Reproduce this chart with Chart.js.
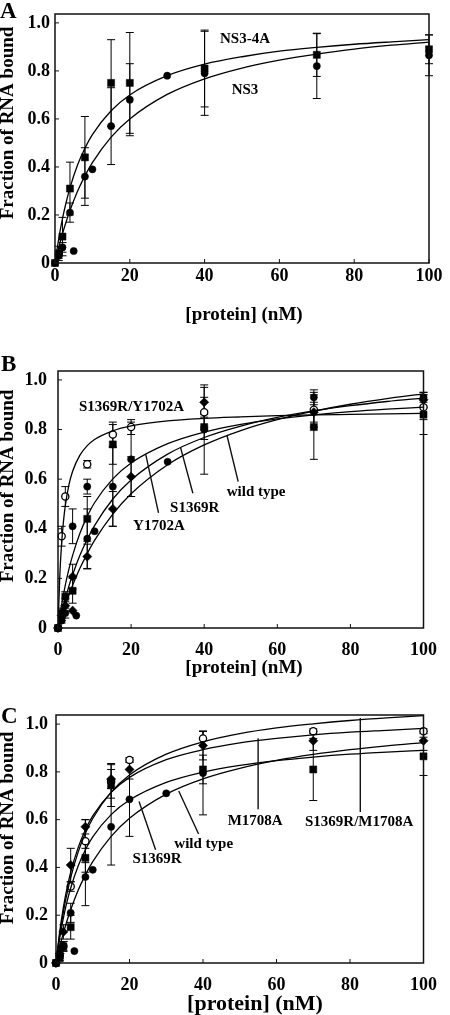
<!DOCTYPE html>
<html>
<head>
<meta charset="utf-8">
<script src="https://cdn.jsdelivr.net/npm/chart.js@4.4.0/dist/chart.umd.min.js"></script>
<style>
html, body { margin: 0; padding: 0; background: #fff; }
body { width: 450px; height: 1015px; position: relative; overflow: hidden; }
.panel { position: absolute; left: 0; width: 450px; }
</style>
</head>
<body>
<div class="panel" style="top:0;height:330px"><canvas id="chartA" width="450" height="330"></canvas></div>
<div class="panel" style="top:330px;height:350px"><canvas id="chartB" width="450" height="350"></canvas></div>
<div class="panel" style="top:680px;height:335px"><canvas id="chartC" width="450" height="335"></canvas></div>
<script>
// axis ticks
const xTicks = [0, 20, 40, 60, 80, 100];
const yTicks = [0, 0.2, 0.4, 0.6, 0.8, 1.0];

const curveX = [0, 1, 2, 3, 4, 6, 8, 10, 15, 20, 30, 40, 50, 60, 70, 80, 90, 100];
const steepX = [0, 0.5, 1, 1.5, 2, 3, 4, 6, 8, 10, 15, 20, 30, 40, 50, 60, 70, 80, 90, 100];

// Panel A
const aNs3X   = [0, 1, 2, 4, 5, 8, 10, 15, 20, 30, 40, 70, 100];
const aNs3Y   = [0, 0.03, 0.065, 0.21, 0.05, 0.36, 0.39, 0.57, 0.68, 0.78, 0.79, 0.82, 0.865];
const aNs3Err = [0, 0.01, 0.02, 0.04, 0, 0.12, 0, 0.16, 0.15, 0, 0.175, 0.135, 0.085];
const aNs34aX   = [0, 1, 2, 4, 8, 15, 20, 40, 70, 100];
const aNs34aY   = [0, 0.04, 0.11, 0.31, 0.44, 0.75, 0.75, 0.81, 0.867, 0.89];
const aNs34aErr = [0, 0.03, 0.08, 0.11, 0.17, 0.18, 0.21, 0.16, 0.09, 0.06];
const aNs34aFit = [0, 0.102, 0.185, 0.254, 0.313, 0.407, 0.478, 0.535, 0.634, 0.700, 0.780, 0.828, 0.859, 0.882, 0.898, 0.911, 0.921, 0.930];
const aNs3Fit   = [0, 0.065, 0.122, 0.173, 0.219, 0.298, 0.363, 0.418, 0.524, 0.600, 0.702, 0.767, 0.812, 0.845, 0.870, 0.891, 0.907, 0.920];

// Panel B
const bDoubleX   = [0, 1, 2, 8, 15, 20, 40, 70, 100];
const bDoubleY   = [0, 0.37, 0.53, 0.66, 0.78, 0.81, 0.87, 0.88, 0.89];
const bDoubleErr = [0, 0.04, 0.04, 0.015, 0.05, 0.03, 0.06, 0.07, 0.05];
const bWildX   = [0, 1, 2, 4, 5, 8, 8, 10, 15, 20, 30, 40, 70, 100];
const bWildY   = [0, 0.03, 0.06, 0.41, 0.05, 0.57, 0.36, 0.39, 0.57, 0.68, 0.67, 0.80, 0.93, 0.93];
const bWildErr = [0, 0.01, 0.02, 0.07, 0, 0.03, 0.12, 0, 0.16, 0.15, 0, 0.18, 0.03, 0.02];
const bS1369RX   = [0, 1, 2, 4, 4, 8, 15, 20, 40, 70, 100];
const bS1369RY   = [0, 0.05, 0.09, 0.07, 0.207, 0.288, 0.48, 0.61, 0.91, 0.87, 0.92];
const bS1369RErr = [0, 0.02, 0.03, 0, 0.05, 0.05, 0.07, 0.08, 0.06, 0.04, 0.03];
const bY1702AX   = [0, 1, 2, 4, 8, 15, 40, 70, 100];
const bY1702AY   = [0, 0.06, 0.126, 0.15, 0.44, 0.74, 0.81, 0.81, 0.86];
const bY1702AErr = [0, 0.02, 0.02, 0.05, 0.09, 0.08, 0.05, 0.13, 0.08];
const bDoubleFit = [0, 0.213, 0.343, 0.430, 0.493, 0.578, 0.632, 0.697, 0.735, 0.760, 0.795, 0.815, 0.835, 0.845, 0.851, 0.856, 0.859, 0.861, 0.863, 0.865];
const bY1702AFit = [0, 0.095, 0.173, 0.238, 0.293, 0.382, 0.450, 0.505, 0.601, 0.665, 0.743, 0.790, 0.821, 0.843, 0.859, 0.872, 0.882, 0.890];
const bS1369RFit = [0, 0.063, 0.119, 0.170, 0.215, 0.293, 0.358, 0.413, 0.520, 0.597, 0.701, 0.768, 0.814, 0.849, 0.875, 0.896, 0.913, 0.927];
const bWildFit   = [0, 0.049, 0.093, 0.134, 0.172, 0.241, 0.300, 0.353, 0.459, 0.541, 0.658, 0.738, 0.796, 0.840, 0.874, 0.902, 0.925, 0.944];

// Panel C
const cDoubleX   = [0, 1, 2, 4, 8, 15, 20, 40, 70, 100];
const cDoubleY   = [0, 0.03, 0.07, 0.32, 0.51, 0.76, 0.85, 0.94, 0.97, 0.97];
const cDoubleErr = [0, 0.01, 0.02, 0.02, 0.09, 0.07, 0.01, 0.03, 0.01, 0.01];
const cM1708AX   = [0, 1, 2, 4, 8, 15, 20, 40, 70, 100];
const cM1708AY   = [0, 0.04, 0.13, 0.41, 0.57, 0.77, 0.81, 0.91, 0.93, 0.93];
const cM1708AErr = [0, 0.01, 0.03, 0.07, 0.03, 0.04, 0.04, 0.06, 0.04, 0.04];
const cS1369RX   = [0, 1, 2, 4, 8, 15, 40, 70, 100];
const cS1369RY   = [0, 0.02, 0.07, 0.15, 0.44, 0.745, 0.81, 0.81, 0.865];
const cS1369RErr = [0, 0.01, 0.02, 0.05, 0.06, 0.09, 0.06, 0.13, 0.08];
const cWildX   = [0, 1, 2, 4, 5, 8, 10, 15, 20, 30, 40];
const cWildY   = [0, 0.03, 0.07, 0.21, 0.05, 0.36, 0.39, 0.57, 0.685, 0.71, 0.795];
const cWildErr = [0, 0.01, 0.02, 0.04, 0, 0.12, 0, 0.16, 0.155, 0, 0.175];
const cDoubleFit = [0, 0.117, 0.213, 0.291, 0.358, 0.463, 0.543, 0.605, 0.715, 0.787, 0.874, 0.926, 0.960, 0.984, 1.001, 1.015, 1.026, 1.035];
const cM1708AFit = [0, 0.130, 0.232, 0.313, 0.380, 0.482, 0.558, 0.616, 0.714, 0.777, 0.851, 0.893, 0.921, 0.940, 0.955, 0.966, 0.974, 0.982];
const cS1369RFit = [0, 0.104, 0.188, 0.257, 0.314, 0.405, 0.474, 0.528, 0.621, 0.682, 0.756, 0.799, 0.827, 0.847, 0.862, 0.874, 0.883, 0.890];
const cWildFit   = [0, 0.066, 0.125, 0.177, 0.223, 0.303, 0.369, 0.424, 0.530, 0.606, 0.707, 0.771, 0.815, 0.848, 0.873, 0.893, 0.909, 0.922];

const SERIF = '"Liberation Serif", "Times New Roman", serif';

function pts(xs, ys) {
    return xs.map((x, i) => ({x: x, y: ys[i]}));
}

function marks(xs, ys, errs, shape) {
    const open = shape === 'open';
    return {
        data: pts(xs, ys),
        errors: errs,
        showLine: false,
        clip: false,
        pointStyle: open ? 'circle' : shape,
        pointRadius: shape === 'rect' ? 5 : shape === 'rectRot' ? 4.6 : 3.6,
        pointBackgroundColor: open ? '#fff' : '#000',
        pointBorderColor: '#000',
        pointBorderWidth: open ? 1.3 : 0.5
    };
}

function fit(xs, ys) {
    return {
        data: pts(xs, ys),
        showLine: true,
        pointRadius: 0,
        borderColor: '#000',
        borderWidth: 1.3,
        cubicInterpolationMode: 'monotone'
    };
}

// error bars, frame, inward ticks, labels and titles
const panelPlugin = {
    id: 'panel',
    beforeDatasetsDraw(chart) {
        const {ctx, scales: {x, y}} = chart;
        ctx.save();
        ctx.strokeStyle = '#000';
        ctx.lineWidth = 1;
        chart.data.datasets.forEach(ds => {
            if (!ds.errors) return;
            ds.data.forEach((p, i) => {
                const e = ds.errors[i];
                if (!e) return;
                const px = x.getPixelForValue(p.x);
                const y1 = y.getPixelForValue(p.y + e);
                const y2 = y.getPixelForValue(p.y - e);
                ctx.beginPath();
                ctx.moveTo(px, y1); ctx.lineTo(px, y2);
                ctx.moveTo(px - 4, y1); ctx.lineTo(px + 4, y1);
                ctx.moveTo(px - 4, y2); ctx.lineTo(px + 4, y2);
                ctx.stroke();
            });
        });
        ctx.restore();
    },
    afterDraw(chart, args, o) {
        const {ctx, chartArea: a, scales: {x, y}} = chart;
        ctx.save();
        ctx.strokeStyle = '#111';
        ctx.lineWidth = 1.5;
        ctx.strokeRect(a.left, a.top, a.right - a.left, a.bottom - a.top);
        ctx.lineWidth = 1;
        ctx.beginPath();
        xTicks.forEach(v => {
            const px = x.getPixelForValue(v);
            ctx.moveTo(px, a.bottom); ctx.lineTo(px, a.bottom - 4);
        });
        yTicks.forEach(v => {
            const py = y.getPixelForValue(v);
            ctx.moveTo(a.left, py); ctx.lineTo(a.left + 4, py);
        });
        ctx.stroke();

        // leader lines
        ctx.lineWidth = 1.4;
        ctx.beginPath();
        (o.leaders || []).forEach(l => {
            ctx.moveTo(x.getPixelForValue(l[0]), y.getPixelForValue(l[1]));
            ctx.lineTo(x.getPixelForValue(l[2]), y.getPixelForValue(l[3]));
        });
        ctx.stroke();

        ctx.fillStyle = '#000';
        ctx.textAlign = 'center';
        ctx.textBaseline = 'middle';
        ctx.font = 'bold 15px ' + SERIF;
        (o.labels || []).forEach(l => {
            ctx.fillText(l.text, x.getPixelForValue(l.x), y.getPixelForValue(l.y));
        });

        ctx.font = 'bold ' + o.xTitle.size + 'px ' + SERIF;
        ctx.fillText('[protein] (nM)', o.xTitle.x, o.xTitle.y);

        ctx.save();
        ctx.translate(8, o.yTitleY);
        ctx.rotate(-Math.PI / 2);
        ctx.font = 'bold 19px ' + SERIF;
        ctx.fillText('Fraction of RNA bound', 0, 0);
        ctx.restore();

        ctx.textAlign = 'left';
        ctx.textBaseline = 'alphabetic';
        ctx.font = 'bold 23px ' + SERIF;
        ctx.fillText(o.letter, o.letterPos[0], o.letterPos[1]);
        ctx.restore();
    }
};

function makePanel(id, datasets, p) {
    return new Chart(document.getElementById(id), {
        type: 'scatter',
        data: {datasets: datasets},
        plugins: [panelPlugin],
        options: {
            responsive: false,
            animation: false,
            events: [],
            layout: {padding: {top: p.top, right: p.right, left: 0, bottom: 0}},
            scales: {
                x: {
                    type: 'linear', min: 0, max: 100,
                    grid: {display: false, drawTicks: false},
                    border: {display: false},
                    afterBuildTicks: s => { s.ticks = xTicks.map(v => ({value: v})); },
                    afterFit: s => { s.height = p.xHeight; },
                    ticks: {color: '#000', padding: p.xPad, maxRotation: 0,
                            font: {family: SERIF, size: 18, weight: 'bold', lineHeight: 1}}
                },
                y: {
                    type: 'linear', min: 0, max: p.yMax,
                    grid: {display: false, drawTicks: false},
                    border: {display: false},
                    afterBuildTicks: s => { s.ticks = yTicks.map(v => ({value: v})); },
                    afterFit: s => { s.width = p.left; },
                    ticks: {color: '#000', padding: p.yPad,
                            callback: v => v === 0 ? '0' : v.toFixed(1),
                            font: {family: SERIF, size: 18, weight: 'bold', lineHeight: 1}}
                }
            },
            plugins: {
                legend: {display: false},
                tooltip: {enabled: false},
                panel: p.panel
            }
        }
    });
}

makePanel('chartA', [
    fit(curveX, aNs34aFit),
    fit(curveX, aNs3Fit),
    marks(aNs34aX, aNs34aY, aNs34aErr, 'rect'),
    marks(aNs3X, aNs3Y, aNs3Err, 'circle')
], {
    top: 10, right: 21, left: 55, xHeight: 67, xPad: 4, yPad: 5, yMax: 1.037,
    panel: {
        letter: 'A', letterPos: [0, 18],
        yTitleY: 123,
        xTitle: {x: 244, y: 315, size: 19},
        labels: [
            {text: 'NS3-4A', x: 50.8, y: 0.934},
            {text: 'NS3', x: 50.8, y: 0.721}
        ]
    }
});

makePanel('chartB', [
    fit(steepX, bDoubleFit),
    fit(curveX, bY1702AFit),
    fit(curveX, bS1369RFit),
    fit(curveX, bWildFit),
    marks(bY1702AX, bY1702AY, bY1702AErr, 'rect'),
    marks(bS1369RX, bS1369RY, bS1369RErr, 'rectRot'),
    marks(bWildX, bWildY, bWildErr, 'circle'),
    marks(bDoubleX, bDoubleY, bDoubleErr, 'open')
], {
    top: 41, right: 23, left: 58, xHeight: 52, xPad: 13, yPad: 11, yMax: 1.036,
    panel: {
        letter: 'B', letterPos: [1, 41],
        yTitleY: 156,
        xTitle: {x: 244, y: 338, size: 19},
        labels: [
            {text: 'S1369R/Y1702A', x: 20.1, y: 0.891},
            {text: 'wild type', x: 54.2, y: 0.548},
            {text: 'S1369R', x: 37.4, y: 0.484},
            {text: 'Y1702A', x: 27.6, y: 0.411}
        ],
        leaders: [
            [24.0, 0.700, 27.5, 0.464],
            [33.5, 0.729, 36.9, 0.543],
            [46.2, 0.778, 49.3, 0.590]
        ]
    }
});

makePanel('chartC', [
    fit(curveX, cDoubleFit),
    fit(curveX, cM1708AFit),
    fit(curveX, cS1369RFit),
    fit(curveX, cWildFit),
    marks(cS1369RX, cS1369RY, cS1369RErr, 'rect'),
    marks(cWildX, cWildY, cWildErr, 'circle'),
    marks(cM1708AX, cM1708AY, cM1708AErr, 'rectRot'),
    marks(cDoubleX, cDoubleY, cDoubleErr, 'open')
], {
    top: 35, right: 23, left: 56, xHeight: 52, xPad: 13, yPad: 8, yMax: 1.038,
    panel: {
        letter: 'C', letterPos: [1, 43],
        yTitleY: 148,
        xTitle: {x: 255, y: 324, size: 22},
        labels: [
            {text: 'M1708A', x: 54.2, y: 0.594},
            {text: 'S1369R/M1708A', x: 82.5, y: 0.590},
            {text: 'wild type', x: 40.2, y: 0.498},
            {text: 'S1369R', x: 27.5, y: 0.435}
        ],
        leaders: [
            [22.6, 0.676, 27.1, 0.474],
            [33.4, 0.720, 38.8, 0.540],
            [55.0, 0.941, 55.0, 0.644],
            [82.8, 1.025, 82.8, 0.632]
        ]
    }
});
</script>
</body>
</html>
